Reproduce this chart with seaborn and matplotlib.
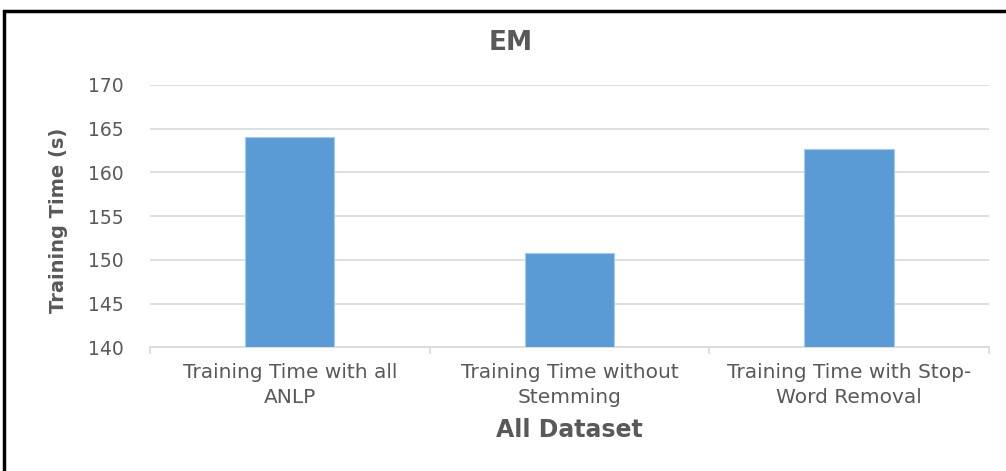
import matplotlib
matplotlib.use("Agg")
import matplotlib.pyplot as plt
import seaborn as sns
import pandas as pd
from matplotlib.patches import Rectangle

categories = [
    "Training Time with all\nANLP",
    "Training Time without\nStemming",
    "Training Time with Stop-\nWord Removal",
]
training_time = [164.1, 150.8, 162.65]
y_ticks = [140, 145, 150, 155, 160, 165, 170]

sns.set_theme(style="white")
plt.rcParams["font.family"] = ["DejaVu Sans"]

TEXT = "#595959"
GRID = "#d9d9d9"

df = pd.DataFrame({"category": categories, "time": training_time})

fig = plt.figure(figsize=(10.06, 4.71), dpi=100)
ax = fig.add_axes([0.149, 0.2626, 0.834, 0.557])

sns.barplot(data=df, x="category", y="time", color="#5b9bd5", width=0.32,
            saturation=1, ax=ax, edgecolor="#a9c8ea", linewidth=0.8, zorder=3)

ax.set_ylim(140, 170)
ax.set_xlim(-0.5, 2.5)
ax.set_yticks(y_ticks)
ax.set_yticklabels([str(v) for v in y_ticks], color=TEXT, fontsize=13.5)
ax.grid(axis="y", color=GRID, linewidth=1.2, zorder=0)
ax.set_axisbelow(True)

for side in ["top", "right", "left"]:
    ax.spines[side].set_visible(False)
ax.spines["bottom"].set_color(GRID)
ax.spines["bottom"].set_linewidth(1.2)

ax.tick_params(axis="y", length=0, pad=19)
ax.tick_params(axis="x", which="major", length=0, pad=11, labelsize=14.5,
               labelcolor=TEXT)
ax.set_xticks([-0.5, 0.5, 1.5, 2.5], minor=True)
ax.tick_params(axis="x", which="minor", length=5, color=GRID, width=1.2,
               bottom=True)
for lbl in ax.get_xticklabels():
    lbl.set_horizontalalignment("center")
    lbl.set_linespacing(1.45)

ax.set_xlabel("")
ax.set_ylabel("")
fig.text(569 / 1006, 1 - 430 / 471, "All Dataset", fontsize=17,
         fontweight="bold", color=TEXT, ha="center", va="center")
fig.text(58 / 1006, 1 - 220 / 471, "Training Time (s)", fontsize=14,
         fontweight="bold", color=TEXT, ha="center", va="center",
         rotation=90)
fig.text(511 / 1006, 1 - 43 / 471, "EM", fontsize=19, fontweight="bold",
         color=TEXT, ha="center", va="center")

# outer chart frame
fig.patches.append(Rectangle((0.004, -0.2), 1.2, 1.177, transform=fig.transFigure,
                             fill=False, edgecolor="black", linewidth=2.5,
                             zorder=10))

fig.savefig("out.png", dpi=100)
